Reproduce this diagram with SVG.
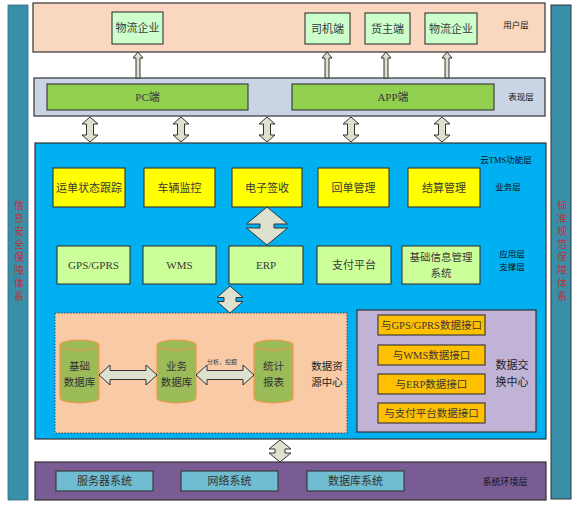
<svg xmlns="http://www.w3.org/2000/svg" width="578" height="506" viewBox="0 0 578 506">
<defs>
<style>
text{font-family:"Liberation Serif","Noto Sans CJK SC",serif;fill:#3a3a3a;text-anchor:middle;dominant-baseline:central}
.panel{stroke:#333;stroke-width:1.2}
.box{stroke:#333;stroke-width:1.1}
.lbl{font-size:11px}
.lay{font-size:8.5px;fill:#111}
.side{font-size:10px;fill:#c0303a;writing-mode:vertical-rl;letter-spacing:3px}
.arw{fill:#dde2cf;stroke:#333;stroke-width:1}
.cyl{fill:#9bbb59;stroke:#f79646;stroke-width:1.2}
</style>
</defs>
<rect width="578" height="506" fill="#fff"/>

<g id="left-bar">
<rect x="8" y="5" width="20" height="495" fill="#3a8fa8" stroke="#2f6f86" stroke-width="0.8"/>
<text class="side" x="18" y="252">信息安全保障体系</text>
</g>
<g id="right-bar">
<rect x="551" y="5" width="20" height="494" fill="#3a8fa8" stroke="#333" stroke-width="1"/>
<text class="side" x="561" y="252">标准规范保障体系</text>
</g>

<g id="user-layer">
<rect class="panel" x="33" y="3" width="512" height="49" fill="#fad7bf"/>
<text class="lay" x="516" y="25">用户层</text>
</g>
<g id="n-wuliu1"><rect class="box" x="112" y="12" width="51" height="32" fill="#ccffcc"/><text class="lbl" x="137.5" y="28">物流企业</text></g>
<g id="n-siji"><rect class="box" x="305" y="13" width="45" height="31" fill="#ccffcc"/><text class="lbl" x="327.5" y="28.5">司机端</text></g>
<g id="n-huozhu"><rect class="box" x="365" y="13" width="45" height="31" fill="#ccffcc"/><text class="lbl" x="387.5" y="28.5">货主端</text></g>
<g id="n-wuliu2"><rect class="box" x="425" y="13" width="52" height="31" fill="#ccffcc"/><text class="lbl" x="451" y="28.5">物流企业</text></g>

<g id="presentation-layer">
<rect class="panel" x="34" y="78" width="511" height="38" fill="#c9d5e5"/>
<text class="lay" x="521" y="97">表现层</text>
</g>
<g id="n-pc"><rect class="box" x="47" y="84" width="201" height="26" fill="#92d050"/><text class="lbl" x="147.5" y="97">PC端</text></g>
<g id="n-app"><rect class="box" x="292" y="84" width="202" height="26" fill="#92d050"/><text class="lbl" x="393" y="97">APP端</text></g>

<g id="tms-layer">
<rect class="panel" x="35" y="143" width="511" height="296" fill="#00b0f0"/>
<text class="lay" x="506" y="160">云TMS功能层</text>
<text class="lay" x="508" y="187">业务层</text>
<text class="lay" x="512" y="253.5">应用层</text>
<text class="lay" x="512" y="266.5">支撑层</text>
</g>
<g id="n-yundan"><rect class="box" x="53" y="168" width="72" height="39" fill="#ffff00"/><text class="lbl" x="89" y="187.5">运单状态跟踪</text></g>
<g id="n-cheliang"><rect class="box" x="144" y="168" width="71" height="39" fill="#ffff00"/><text class="lbl" x="179.5" y="187.5">车辆监控</text></g>
<g id="n-dianzi"><rect class="box" x="232" y="168" width="70" height="39" fill="#ffff00"/><text class="lbl" x="267" y="187.5">电子签收</text></g>
<g id="n-huidan"><rect class="box" x="318" y="168" width="71" height="39" fill="#ffff00"/><text class="lbl" x="353.5" y="187.5">回单管理</text></g>
<g id="n-jiesuan"><rect class="box" x="408" y="168" width="72" height="39" fill="#ffff00"/><text class="lbl" x="444" y="187.5">结算管理</text></g>

<g id="n-gps"><rect class="box" x="57" y="246" width="73" height="38" fill="#ccff99"/><text class="lbl" x="93.5" y="265">GPS/GPRS</text></g>
<g id="n-wms"><rect class="box" x="143" y="246" width="73" height="38" fill="#ccff99"/><text class="lbl" x="179.5" y="265">WMS</text></g>
<g id="n-erp"><rect class="box" x="229" y="246" width="74" height="38" fill="#ccff99"/><text class="lbl" x="266" y="265">ERP</text></g>
<g id="n-zhifu"><rect class="box" x="317" y="246" width="74" height="38" fill="#ccff99"/><text class="lbl" x="354" y="265">支付平台</text></g>
<g id="n-jichu"><rect class="box" x="402" y="246" width="78" height="38" fill="#ccff99"/><text x="441" y="257.5" style="font-size:10.5px">基础信息管理</text><text x="441" y="273" style="font-size:10.5px">系统</text></g>

<g id="data-resource-center">
<rect x="55" y="313" width="292" height="120" fill="#f8cba6" stroke="#444" stroke-width="1" stroke-dasharray="1.5,1.5"/>
<text x="327" y="366.5" style="font-size:10.5px;fill:#222">数据资</text>
<text x="327" y="382.5" style="font-size:10.5px;fill:#222">源中心</text>
</g>
<g id="n-db-jichu">
<path class="cyl" d="M60,345 A19.5,5 0 0 1 99,345 L99,398 A19.5,5 0 0 1 60,398 Z"/>
<path d="M60,345 A19.5,5 0 0 0 99,345" fill="none" stroke="#f79646" stroke-width="1"/>
<text x="79.5" y="366.5" style="font-size:10.5px;fill:#333">基础</text><text x="79.5" y="382" style="font-size:10.5px;fill:#333">数据库</text>
</g>
<g id="n-db-yewu">
<path class="cyl" d="M157,345 A19.5,5 0 0 1 196,345 L196,398 A19.5,5 0 0 1 157,398 Z"/>
<path d="M157,345 A19.5,5 0 0 0 196,345" fill="none" stroke="#f79646" stroke-width="1"/>
<text x="176.5" y="366.5" style="font-size:10.5px;fill:#333">业务</text><text x="176.5" y="382" style="font-size:10.5px;fill:#333">数据库</text>
</g>
<g id="n-tongji">
<path class="cyl" d="M254,345 A19.5,5 0 0 1 293,345 L293,398 A19.5,5 0 0 1 254,398 Z"/>
<path d="M254,345 A19.5,5 0 0 0 293,345" fill="none" stroke="#f79646" stroke-width="1"/>
<text x="273.5" y="366.5" style="font-size:10.5px;fill:#333">统计</text><text x="273.5" y="382" style="font-size:10.5px;fill:#333">报表</text>
</g>

<g id="data-exchange-center">
<rect class="panel" x="357" y="310" width="179" height="122" fill="#c0b3d5"/>
<text x="512" y="364.5" style="font-size:11px;fill:#222">数据交</text>
<text x="512" y="381.5" style="font-size:11px;fill:#222">换中心</text>
</g>
<g id="n-if-gps"><rect class="box" x="378" y="315" width="107" height="20" fill="#ffc000"/><text x="431.5" y="325" style="font-size:10.5px">与GPS/GPRS数据接口</text></g>
<g id="n-if-wms"><rect class="box" x="378" y="345" width="107" height="20" fill="#ffc000"/><text x="431.5" y="355" style="font-size:10.5px">与WMS数据接口</text></g>
<g id="n-if-erp"><rect class="box" x="378" y="374" width="107" height="20" fill="#ffc000"/><text x="431.5" y="384" style="font-size:10.5px">与ERP数据接口</text></g>
<g id="n-if-zhifu"><rect class="box" x="378" y="403" width="107" height="20" fill="#ffc000"/><text x="431.5" y="413" style="font-size:10.5px">与支付平台数据接口</text></g>

<g id="env-layer">
<rect class="panel" x="35" y="462" width="511" height="38" fill="#795c94"/>
<text x="505" y="482" style="font-size:9px;fill:#111">系统环境层</text>
</g>
<g id="n-server"><rect class="box" x="56" y="471" width="97" height="20" fill="#70bdd1"/><text class="lbl" x="104.5" y="481" style="fill:#333">服务器系统</text></g>
<g id="n-network"><rect class="box" x="181" y="471" width="97" height="20" fill="#70bdd1"/><text class="lbl" x="229.5" y="481" style="fill:#333">网络系统</text></g>
<g id="n-dbsys"><rect class="box" x="307" y="471" width="97" height="20" fill="#70bdd1"/><text class="lbl" x="355.5" y="481" style="fill:#333">数据库系统</text></g>

<g id="connectors">
<polygon class="arw" points="138,52 143,58 140,58 140,78 136,78 136,58 133,58"/>
<polygon class="arw" points="327,52 332,58 329,58 329,78 325,78 325,58 322,58"/>
<polygon class="arw" points="386,52 391,58 388,58 388,78 384,78 384,58 381,58"/>
<polygon class="arw" points="447,52 452,58 449,58 449,78 445,78 445,58 442,58"/>

<polygon class="arw" points="90,117 98,124 93.5,124 93.5,135 98,135 90,142 82,135 86.5,135 86.5,124 82,124"/>
<polygon class="arw" points="181,117 189,124 184.5,124 184.5,135 189,135 181,142 173,135 177.5,135 177.5,124 173,124"/>
<polygon class="arw" points="267,117 275,124 270.5,124 270.5,135 275,135 267,142 259,135 263.5,135 263.5,124 259,124"/>
<polygon class="arw" points="351,117 359,124 354.5,124 354.5,135 359,135 351,142 343,135 347.5,135 347.5,124 343,124"/>
<polygon class="arw" points="442,117 450,124 445.5,124 445.5,135 450,135 442,142 434,135 438.5,135 438.5,124 434,124"/>

<polygon class="arw" points="267,207 287.5,224 274,224 274,228 287.5,228 267,245 246.5,228 260,228 260,224 246.5,224"/>
<polygon class="arw" points="230,286 243,297.5 236,297.5 236,301.5 243,301.5 230,313 217,301.5 224,301.5 224,297.5 217,297.5"/>
<polygon class="arw" points="280,440 291,449 285,449 285,453 291,453 280,462 269,453 275,453 275,449 269,449"/>

<polygon class="arw" points="99,375 110,365 110,370.5 146,370.5 146,365 157,375 146,385 146,379.5 110,379.5 110,385"/>
<polygon class="arw" points="196,375 207,365 207,370.5 243,370.5 243,365 254,375 243,385 243,379.5 207,379.5 207,385"/>
<text x="222" y="362" style="font-size:6px;fill:#333">分析，挖掘</text>
</g>
</svg>
